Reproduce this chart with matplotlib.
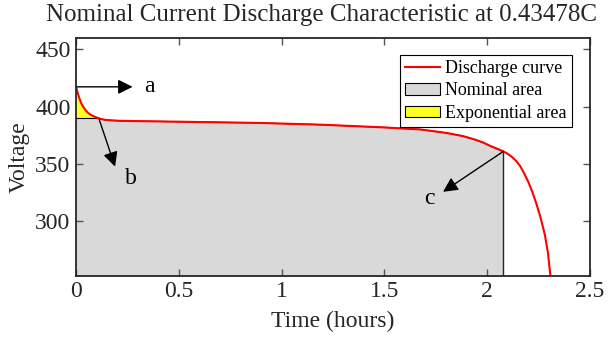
import numpy as np
import matplotlib.pyplot as plt
from matplotlib.patches import Patch
from matplotlib.lines import Line2D

plt.rcParams['font.family'] = ['Liberation Serif', 'DejaVu Serif']

# discharge curve (hours, volts)
t = [0, 0.005, 0.01, 0.016, 0.022, 0.028, 0.036, 0.046, 0.06, 0.075, 0.09, 0.105,
     0.12, 0.14, 0.17, 0.21, 0.3, 0.5, 0.9, 1.19, 1.5, 1.676, 1.8, 1.88, 1.94,
     1.98, 2.016, 2.05, 2.078, 2.1, 2.12, 2.14, 2.16, 2.18, 2.2, 2.22, 2.24, 2.26,
     2.28, 2.295, 2.308]
V = [417.3, 414.0, 411.0, 407.5, 404.5, 402.0, 399.5, 397.0, 394.3, 392.5, 391.2,
     390.2, 389.2, 388.5, 388.0, 387.6, 387.3, 386.8, 385.7, 384.2, 381.8, 380.0,
     377.0, 374.3, 371.2, 368.6, 365.5, 363.0, 360.8, 358.7, 356.0, 352.6, 348.0,
     341.5, 334.0, 325.0, 314.5, 302.5, 288.0, 272.5, 251.0]

t_exp, v_exp = 0.105, 390.2
t_nom, v_nom = 2.078, 360.8

xticks = [0, 0.5, 1, 1.5, 2, 2.5]
yticks = [300, 350, 400, 450]

t = np.array(t)
V = np.array(V)

fig = plt.figure(figsize=(6.14, 3.42), dpi=100)
ax = fig.add_axes([0.1238, 0.1944, 0.8372, 0.6945])

ybot = 252.3
nom = t <= t_nom
ax.fill_between(t[nom], ybot - 20, np.minimum(V[nom], v_exp), color='#d9d9d9', lw=0, zorder=1)
ax.plot(t[nom], np.minimum(V[nom], v_exp), color='k', lw=0.8, zorder=2)
ax.plot([t_nom, t_nom], [ybot - 20, v_nom], color='#262626', lw=1.0, zorder=2)

ex = t <= t_exp
ax.fill_between(t[ex], v_exp, V[ex], color='#ffff22', lw=0, zorder=2)
ax.plot(t[ex], np.full(ex.sum(), v_exp), color='k', lw=0.8, zorder=2)

ax.plot(t, V, color='red', lw=1.5, zorder=3)

ap = dict(arrowstyle='-|>', color='k', lw=1.0, mutation_scale=22, shrinkA=0, shrinkB=0)
ax.annotate('', xy=(0.275, V[0]), xytext=(0, V[0]), arrowprops=ap, zorder=4)
ax.text(0.33, V[0], 'a', fontsize=17, va='center', ha='left')
ax.annotate('', xy=(0.19, 347.5), xytext=(0.113, 388.6), arrowprops=ap, zorder=4)
ax.text(0.265, 337, 'b', fontsize=17, va='center', ha='center')
ax.annotate('', xy=(1.785, 325.5), xytext=(t_nom, v_nom), arrowprops=ap, zorder=4)
ax.text(1.72, 320, 'c', fontsize=17, va='center', ha='center')

ax.set_xlim(0, 2.5)
ax.set_ylim(ybot, 460)
ax.set_xticks(xticks)
ax.set_xticklabels(['0', '0.5', '1', '1.5', '2', '2.5'])
ax.set_yticks(yticks)
ax.tick_params(direction='in', top=True, right=True, length=5, width=1,
               color='#555555', labelsize=17, labelcolor='#262626', pad=4)
for s in ax.spines.values():
    s.set_linewidth(1.3)
    s.set_color('#262626')
    s.set_zorder(5)

ax.set_xlabel('Time (hours)', fontsize=17, color='#262626', labelpad=6)
ax.set_ylabel('Voltage', fontsize=17, color='#262626', labelpad=4)
fig.text(0.5244, 0.955, 'Nominal Current Discharge Characteristic at 0.43478C',
         fontsize=18, color='#262626', ha='center', va='center')

handles = [Line2D([], [], color='red', lw=1.5),
           Patch(facecolor='#d9d9d9', edgecolor='k', lw=0.8),
           Patch(facecolor='#ffff22', edgecolor='k', lw=0.8)]
leg = ax.legend(handles, ['Discharge curve', 'Nominal area', 'Exponential area'],
                loc='upper right', bbox_to_anchor=(0.965, 0.93), fontsize=13,
                frameon=True, fancybox=False, edgecolor='k', framealpha=1,
                handlelength=1.9, handleheight=0.6, handletextpad=0.3,
                labelspacing=0.3, borderpad=0.3, borderaxespad=0)
leg.get_frame().set_linewidth(0.8)
leg.set_zorder(6)

fig.savefig('out.png', dpi=100)
